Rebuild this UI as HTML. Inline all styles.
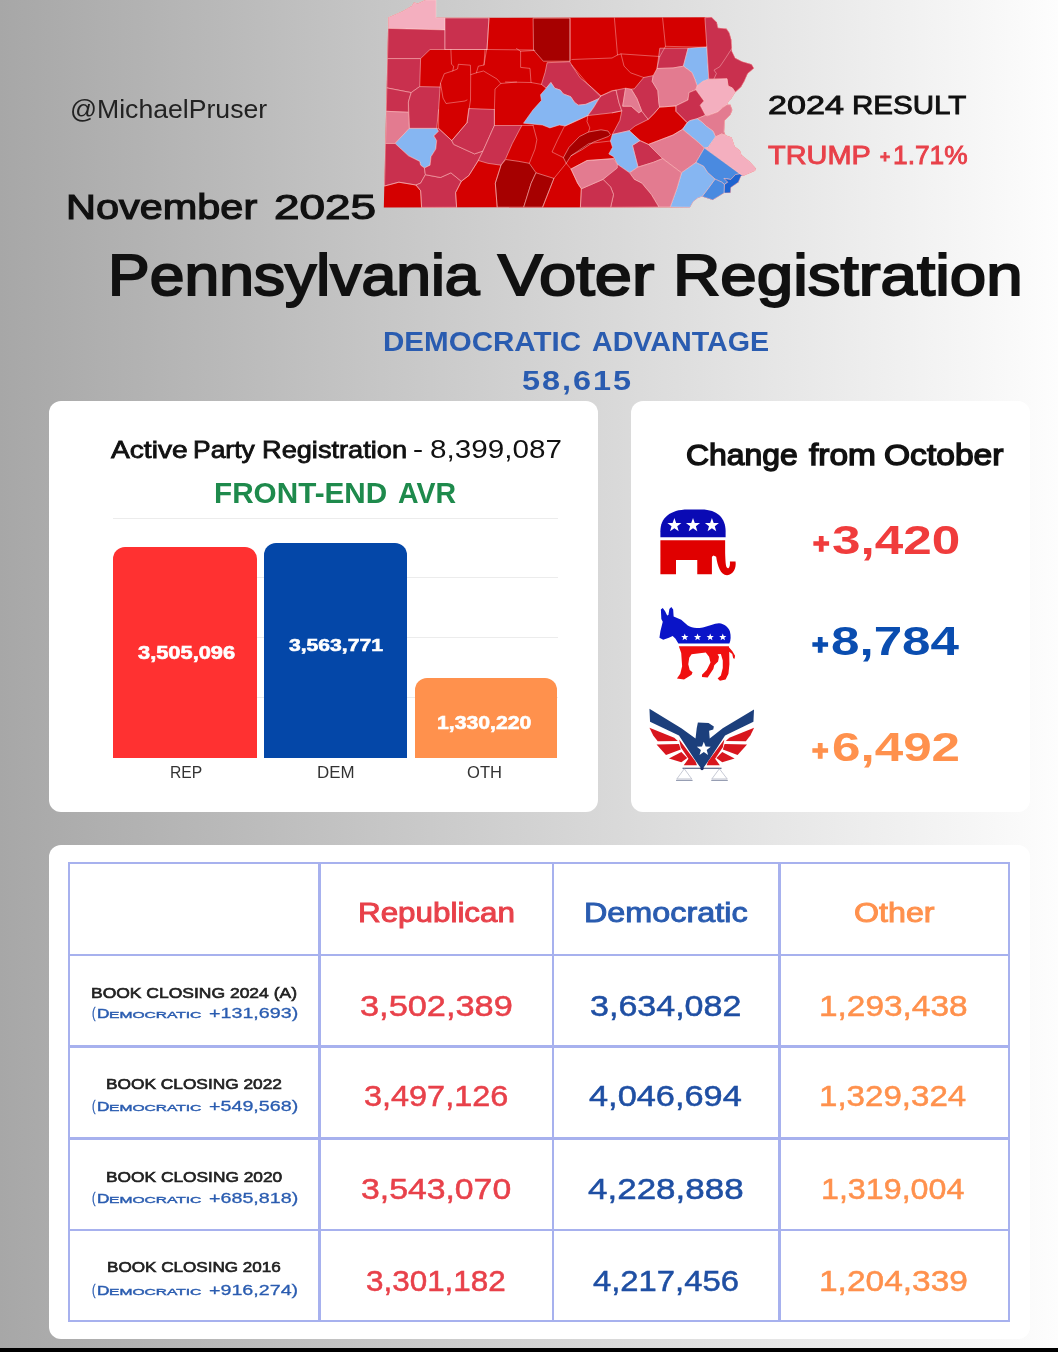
<!DOCTYPE html>
<html>
<head>
<meta charset="utf-8">
<title>Pennsylvania Voter Registration</title>
<style>
*{box-sizing:border-box;margin:0;padding:0}
html,body{width:1058px;height:1352px;overflow:hidden}
body{font-family:"Liberation Sans",sans-serif;position:relative;background:linear-gradient(to right,#a7a7a7 0%,#fdfdfd 100%);color:#111}
.t{position:absolute;white-space:nowrap;line-height:1;transform-origin:0 0}
.card{position:absolute;background:#fff;border-radius:12px}
.bar{position:absolute;border-radius:12px 12px 0 0}
.gl{position:absolute;left:113px;width:445px;height:1px;background:#ececec}
.ln{position:absolute;background:#a7b1ee}
#blackbar{position:absolute;left:0;top:1347.5px;width:1058px;height:5px;background:#000}
svg{position:absolute;overflow:visible}
</style>
</head>
<body>
<svg id="map" style="left:0;top:0;filter:blur(0.65px)" width="1058" height="230" viewBox="0 0 1058 230">
<polygon points="388.3,17.4 402.7,11.3 411.8,6.0 414.0,2.6 417.8,3.4 425.4,0.0 436.0,0.0 436.0,17.8 711.6,17.2 716.9,22.5 717.9,27.8 726.5,28.8 729.4,33.1 731.3,39.8 731.8,48.5 731.8,50.9 735.2,58.1 741.9,61.4 751.5,64.3 753.9,68.2 747.7,73.5 744.3,81.2 741.0,86.9 735.2,92.2 731.3,98.5 728.5,101.3 727.0,104.7 730.4,104.7 732.3,110.0 730.4,114.8 724.6,120.6 724.1,132.1 725.5,135.3 731.6,137.6 734.6,146.6 739.9,150.4 741.4,155.0 749.7,161.8 755.8,168.6 755.0,170.8 742.9,176.1 741.0,176.1 738.4,182.2 730.8,187.5 730.5,192.8 724.0,193.1 712.7,199.9 702.1,196.5 697.6,198.0 693.0,201.8 690.0,207.2 383.8,207.5" fill="#d40000"/>
<g stroke="#ffd0d0" stroke-opacity="0.7" stroke-width="0.7" stroke-linejoin="round">
<polygon points="388.3,17.4 402.7,11.3 411.8,6.0 414.0,2.6 417.8,3.4 425.4,0.0 436.0,0.0 436.0,17.8 445.0,17.8 445.0,29.9 388.2,28.4" fill="#f4afbf"/>
<polygon points="388.2,28.4 445.0,29.9 445.0,49.5 430.0,49.5 420.6,58.6 387.5,58.6" fill="#c9304e"/>
<polygon points="445.0,18.0 489.0,18.0 487.0,49.5 445.0,49.5" fill="#c9304e"/>
<polygon points="387.5,58.6 420.6,58.6 419.7,86.6 411.2,92.6 386.8,87.9" fill="#c9304e"/>
<polygon points="386.8,87.9 411.2,92.6 408.4,102.0 408.4,112.3 386.3,111.3" fill="#c9304e"/>
<polygon points="411.2,92.6 419.7,86.6 440.1,87.0 438.6,109.6 436.7,128.4 409.3,128.4 408.4,102.0" fill="#c9304e"/>
<polygon points="386.3,111.3 408.4,112.3 409.3,128.4 395.1,143.5 385.5,143.5" fill="#e37b90"/>
<polygon points="409.3,128.4 436.7,128.4 438.6,131.2 433.9,135.9 436.7,140.6 435.8,149.1 431.0,156.7 430.1,165.2 424.4,168.0 420.6,165.2 419.7,161.4 408.4,155.8 395.1,143.5" fill="#86b6f2"/>
<polygon points="385.5,143.5 395.1,143.5 408.4,155.8 419.7,161.4 420.6,165.2 424.4,168.0 425.4,174.7 420.6,183.2 415.9,185.0 398.9,182.2 384.5,186.0" fill="#c9304e"/>
<polygon points="420.6,183.2 425.4,174.7 440.5,177.5 450.9,172.8 461.3,181.3 455.6,192.6 456.6,207.3 421.6,207.4 420.6,190.7 415.9,185.0" fill="#c9304e"/>
<polygon points="436.7,128.4 438.6,128.4 451.8,140.6 453.7,144.4 474.5,153.9 483.0,151.0 478.3,160.5 468.8,175.6 461.3,181.3 450.9,172.8 440.5,177.5 425.4,174.7 424.4,168.0 430.1,165.2 431.0,156.7 435.8,149.1 436.7,140.6 433.9,135.9 438.6,131.2" fill="#c9304e"/>
<polygon points="467.0,122.7 468.8,108.5 494.4,109.5 494.4,125.5 483.0,151.0 474.5,153.9 453.7,144.4 451.8,140.6" fill="#c9304e"/>
<polygon points="494.4,125.5 521.8,125.5 512.3,143.5 505.7,158.6 501.0,165.2 487.8,163.3 478.3,160.5 483.0,151.0" fill="#c9304e"/>
<polygon points="505.7,159.5 518.9,161.4 529.3,163.3 536.0,172.8 531.2,183.2 523.7,207.2 497.2,207.2 495.3,183.2 501.0,165.2" fill="#a60000"/>
<polygon points="536.0,172.8 553.9,178.4 542.6,207.2 523.7,207.2 531.2,183.2" fill="#a60000"/>
<polygon points="533.1,18.2 570.0,18.2 570.0,61.2 543.3,61.2 533.5,50.0" fill="#a60000"/>
<polygon points="563.4,157.6 569.0,147.3 579.5,136.5 588.5,132.0 601.0,129.8 608.0,131.0 610.4,134.5 608.5,136.4 593.4,142.1 582.1,149.6 571.0,155.8 566.2,163.3" fill="#a60000"/>
<polygon points="547.1,62.7 569.8,61.7 572.6,66.5 580.2,77.8 591.5,87.3 601.0,95.8 599.1,98.6 585.9,104.3 578.3,105.2 574.5,102.4 570.7,96.7 563.2,93.9 560.3,90.1 554.7,88.2 550.9,82.5 546.2,88.2 541.4,84.4 545.2,72.1" fill="#c9304e"/>
<polygon points="550.9,82.5 554.7,88.2 560.3,90.1 563.2,93.9 570.7,96.7 574.5,102.4 578.3,105.2 585.9,104.3 599.1,98.6 593.4,108.0 587.8,115.6 565.1,126.0 559.4,125.0 549.9,127.9 542.4,125.0 523.5,123.2 532.9,110.0 541.4,100.5 540.5,94.8 546.2,88.2" fill="#86b6f2"/>
<polygon points="601.0,95.8 612.3,91.0 616.1,90.1 618.9,102.4 621.8,110.9 612.3,112.8 587.8,115.6 593.4,108.0 599.1,98.6" fill="#c9304e"/>
<polygon points="616.1,90.1 625.6,88.2 622.7,106.2 631.2,106.2 638.8,112.8 641.6,110.9 648.2,119.4 635.0,126.0 629.3,130.7 612.3,134.5 619.9,120.3 621.8,110.9 618.9,102.4" fill="#c9304e"/>
<polygon points="631.2,89.1 634.3,88.8 643.7,77.5 653.2,75.6 652.2,81.3 657.9,90.7 658.8,102.0 659.6,107.1 653.9,113.7 648.2,119.4 641.6,110.9 636.9,98.6" fill="#c9304e"/>
<polygon points="625.6,88.2 631.2,89.1 636.9,98.6 641.6,110.9 638.8,112.8 631.2,106.2 622.7,106.2" fill="#e37b90"/>
<polygon points="659.8,48.2 688.1,48.2 683.4,66.2 673.0,68.0 657.0,68.5" fill="#c9304e"/>
<polygon points="688.1,48.2 705.9,47.0 706.8,46.5 708.8,79.2 702.5,81.6 697.2,86.0 694.8,79.2 691.9,72.5 683.4,66.2" fill="#86b6f2"/>
<polygon points="704.9,17.7 711.6,17.2 716.9,22.5 717.9,27.8 726.5,28.8 729.4,33.1 731.3,39.8 731.8,48.5 731.8,50.9 735.2,58.1 741.9,61.4 751.5,64.3 753.9,68.2 747.7,73.5 744.3,81.2 741.0,86.9 735.2,92.2 732.3,87.9 728.0,86.0 727.0,78.8 714.0,79.2 708.8,79.2 706.8,46.5" fill="#c9304e"/>
<polygon points="657.0,68.5 673.0,68.0 683.4,66.2 691.9,72.5 694.8,79.2 697.2,86.0 695.8,89.8 693.4,90.8 689.0,92.6 688.0,100.0 675.9,105.9 664.5,106.8 659.6,107.1 658.8,102.0 657.9,90.7 652.2,81.3 653.2,75.6" fill="#e37b90"/>
<polygon points="697.2,86.0 702.5,81.6 708.8,79.2 714.0,79.2 727.0,78.8 728.0,86.0 732.3,87.9 735.2,92.2 731.3,98.5 728.5,101.3 727.0,104.7 722.7,107.6 717.9,111.9 707.3,115.8 705.4,115.3 700.1,105.2 703.9,100.9 695.8,89.8" fill="#f4afbf"/>
<polygon points="689.0,92.6 693.4,90.8 695.8,89.8 703.9,100.9 700.1,105.2 705.4,115.3 697.2,118.7 690.0,120.6 687.2,122.7 675.9,111.3 675.9,105.9 688.0,100.0" fill="#c9304e"/>
<polygon points="707.3,115.8 717.9,111.9 722.7,107.6 727.0,104.7 730.4,104.7 732.3,110.0 730.4,114.8 724.6,120.6 724.1,132.1 725.5,135.3 721.7,134.0 715.5,136.9 713.1,131.2 706.3,126.3 702.5,122.5 697.2,118.7 705.4,115.3" fill="#e37b90"/>
<polygon points="682.5,129.3 687.2,122.7 690.0,120.6 697.2,118.7 702.5,122.5 706.3,126.3 713.1,131.2 715.5,136.9 708.1,147.4 704.4,148.1 698.5,142.5" fill="#86b6f2"/>
<polygon points="708.1,147.4 715.5,136.9 721.7,134.0 725.5,135.3 731.6,137.6 734.6,146.6 739.9,150.4 741.4,155.0 749.7,161.8 755.8,168.6 755.0,170.8 742.9,176.1 739.9,173.9 704.4,148.1" fill="#f4afbf"/>
<polygon points="648.4,144.4 673.0,135.0 682.5,129.3 698.5,142.5 704.4,148.1 696.0,162.5 681.5,172.8 662.6,158.6" fill="#e37b90"/>
<polygon points="704.4,148.1 739.9,173.9 735.4,174.6 730.8,179.5 724.0,178.4 727.8,182.2 724.4,184.4 721.8,182.2 715.0,179.1 707.4,172.3 703.6,166.3 696.0,162.5" fill="#4a8ae0"/>
<polygon points="724.0,178.4 730.8,179.5 735.4,174.6 739.9,173.9 742.9,176.1 741.0,176.1 738.4,182.2 730.8,187.5 730.5,192.8 724.0,193.1 724.4,184.4 727.8,182.2" fill="#1f63cf"/>
<polygon points="715.0,179.1 721.8,182.2 724.4,184.4 724.0,193.1 712.7,199.9 702.1,196.5 708.9,187.5" fill="#4a8ae0"/>
<polygon points="696.0,162.5 703.6,166.3 707.4,172.3 715.0,179.1 708.9,187.5 702.1,196.5 697.6,198.0 693.0,201.8 690.0,207.2 670.2,207.0 676.8,188.8 681.5,172.8" fill="#86b6f2"/>
<polygon points="632.4,145.4 640.0,140.6 648.4,144.4 662.6,158.6 653.2,162.4 638.0,167.1" fill="#c9304e"/>
<polygon points="612.3,134.5 629.3,130.7 640.0,140.6 632.4,145.4 638.0,167.1 629.5,172.8 617.3,164.3 613.5,156.7 608.8,153.9 612.5,147.3 610.4,141.0" fill="#86b6f2"/>
<polygon points="629.5,172.8 638.0,167.1 653.2,162.4 662.6,158.6 681.5,172.8 676.8,188.8 670.2,207.0 658.8,207.0 651.3,194.5 641.8,183.2 634.3,179.4" fill="#e37b90"/>
<polygon points="617.3,164.3 629.5,172.8 634.3,179.4 641.8,183.2 651.3,194.5 658.8,207.0 610.6,207.3 613.5,194.5 610.6,187.0 603.0,179.4" fill="#c9304e"/>
<polygon points="581.3,188.8 603.0,179.4 610.6,187.0 613.5,194.5 610.6,207.3 580.4,207.3" fill="#c9304e"/>
<polygon points="571.0,169.0 587.0,160.5 613.5,158.6 617.3,164.3 617.3,168.0 603.0,179.4 581.3,188.8 577.6,183.2" fill="#e37b90"/>
</g>
<g fill="none" stroke="#ffd0d0" stroke-opacity="0.6" stroke-width="0.7" stroke-linejoin="round" stroke-linecap="round">
<polyline points="731.8,48.5 725.6,58.1 719.8,66.7 714.0,70.1 716.4,73.5 714.0,78.8"/>
<polyline points="489.0,18.0 487.0,49.5"/>
<polyline points="487.0,49.5 533.5,50.0"/>
<polyline points="445.0,49.5 487.0,49.5"/>
<polyline points="450.9,49.5 451.5,64.3 453.7,66.2 452.8,70.9 444.3,73.7 440.5,83.2 440.1,87.0"/>
<polyline points="485.0,49.5 484.0,65.0 478.3,66.2 476.4,72.8 470.7,74.7 470.4,65.2 458.4,64.3 457.5,69.0 452.8,70.9"/>
<polyline points="440.5,83.2 443.0,98.0 446.0,103.5 465.0,101.0 467.0,100.0"/>
<polyline points="470.7,74.7 470.5,100.0 467.0,122.7"/>
<polyline points="476.4,72.8 483.5,71.0 497.0,79.0 500.8,83.5 516.5,82.0"/>
<polyline points="500.8,83.5 495.0,89.0 494.4,109.5"/>
<polyline points="494.4,109.5 494.4,125.5"/>
<polyline points="484.0,65.0 486.6,49.5"/>
<polyline points="516.5,48.5 520.6,51.3 520.6,67.4 530.0,68.4 531.0,82.5 541.4,84.4"/>
<polyline points="505.5,82.0 531.0,82.5"/>
<polyline points="520.6,51.3 534.8,50.4"/>
<polyline points="570.0,18.2 570.0,61.2"/>
<polyline points="614.4,18.0 617.5,55.0 612.0,58.0 571.9,59.5"/>
<polyline points="662.6,18.0 665.5,46.3 705.9,47.3"/>
<polyline points="617.5,55.0 621.0,53.9 659.8,56.5 665.5,46.3"/>
<polyline points="621.0,53.9 624.0,66.0 630.5,72.8 643.7,77.5"/>
<polyline points="659.8,56.5 657.0,68.5"/>
<polyline points="616.1,90.1 611.6,90.7 600.2,96.4"/>
<polyline points="571.9,65.2 587.0,83.2 600.2,96.4"/>
<polyline points="521.8,125.5 533.1,125.5"/>
<polyline points="533.1,125.5 536.9,139.7 535.0,149.1 529.3,163.3"/>
<polyline points="564.3,126.5 557.7,139.7 552.0,152.0 563.4,157.6"/>
<polyline points="566.2,163.3 553.9,178.4"/>
<polyline points="553.9,178.4 542.6,207.2"/>
<polyline points="566.2,163.3 571.0,169.0 577.6,183.2 581.3,188.8 580.4,207.3"/>
<polyline points="565.1,126.0 587.8,115.6"/>
<polyline points="587.8,115.6 587.0,121.5 589.8,127.9 588.5,132.0"/>
<polyline points="612.3,112.8 621.8,110.9"/>
<polyline points="571.0,155.8 588.9,143.5 610.4,141.0"/>
<polyline points="613.5,158.6 587.0,160.5 571.0,169.0"/>
<polyline points="456.6,207.3 455.6,192.6 461.3,181.3 468.8,175.6 478.3,160.5"/>
<polyline points="501.0,165.2 495.3,183.2 497.2,207.2"/>
<polyline points="648.2,119.4 653.9,113.7 659.6,107.1 664.5,106.8 675.9,105.9 675.9,111.3 687.2,122.7 682.5,129.3 673.0,135.0 648.4,144.4 640.0,140.6 629.3,130.7"/>
<polyline points="384.5,186.0 398.9,182.2 415.9,185.0 420.6,190.7 421.6,207.4"/>
<polyline points="438.6,109.6 438.6,128.4 451.8,140.6 467.0,122.7"/>
</g>
</svg>
<div class="card" style="left:49px;top:401px;width:548.5px;height:410.5px"></div>
<div class="card" style="left:631px;top:401px;width:399px;height:410.5px"></div>
<div class="card" style="left:49px;top:845px;width:981px;height:494px"></div>
<!-- chart -->
<div class="gl" style="top:518px"></div>
<div class="gl" style="top:577px"></div>
<div class="gl" style="top:637px"></div>
<div class="gl" style="top:697px"></div>
<div class="bar" style="left:113px;top:547px;width:143.5px;height:210.5px;background:#ff3131"></div>
<div class="bar" style="left:264px;top:543px;width:143px;height:214.5px;background:#0447a8"></div>
<div class="bar" style="left:415.3px;top:678px;width:142px;height:79.5px;background:#ff914d"></div>
<!-- table lines -->
<div class="ln" style="left:68.0px;top:861.7px;width:942.4px;height:2.4px"></div>
<div class="ln" style="left:68.0px;top:953.6px;width:942.4px;height:2.4px"></div>
<div class="ln" style="left:68.0px;top:1045.4px;width:942.4px;height:2.4px"></div>
<div class="ln" style="left:68.0px;top:1137.2px;width:942.4px;height:2.4px"></div>
<div class="ln" style="left:68.0px;top:1228.8px;width:942.4px;height:2.4px"></div>
<div class="ln" style="left:68.0px;top:1320.0px;width:942.4px;height:2.4px"></div>
<div class="ln" style="left:68.0px;top:861.7px;width:2.4px;height:460.7px"></div>
<div class="ln" style="left:318.3px;top:861.7px;width:2.4px;height:460.7px"></div>
<div class="ln" style="left:551.5px;top:861.7px;width:2.4px;height:460.7px"></div>
<div class="ln" style="left:778.3px;top:861.7px;width:2.4px;height:460.7px"></div>
<div class="ln" style="left:1008.0px;top:861.7px;width:2.4px;height:460.7px"></div>
<div style="position:absolute;left:414px;top:449.5px;width:8px;height:2.8px;background:#111;border-radius:1px"></div>
<svg id="icons" style="left:0;top:0;filter:blur(0.6px)" width="1058" height="1352" viewBox="0 0 1058 1352">
<g transform="translate(650,500) scale(0.09452)">
<path d="M110,395 L110,330 C110,190 210,100 400,100 L545,100 C715,100 800,195 800,330 L800,395 Z" fill="#0a0ab4"/>
<path d="M110,425 L795,425 L795,560 C798,640 800,700 815,718 C835,733 850,700 845,650 L905,650 C915,720 880,792 815,795 C745,790 715,700 700,600 L672,588 L655,600 L655,785 L500,785 L500,635 L275,635 L275,785 L110,785 Z" fill="#e00000"/>
<polygon points="258.0,190.0 276.8,242.1 332.2,243.9 288.4,277.9 303.8,331.1 258.0,300.0 212.2,331.1 227.6,277.9 183.8,243.9 239.2,242.1" fill="#fff"/>
<polygon points="455.0,190.0 473.8,242.1 529.2,243.9 485.4,277.9 500.8,331.1 455.0,300.0 409.2,331.1 424.6,277.9 380.8,243.9 436.2,242.1" fill="#fff"/>
<polygon points="655.0,190.0 673.8,242.1 729.2,243.9 685.4,277.9 700.8,331.1 655.0,300.0 609.2,331.1 624.6,277.9 580.8,243.9 636.2,242.1" fill="#fff"/>
</g>
<g transform="translate(650,600) scale(0.09452)">
<path d="M115,100 L135,85 L160,120 L182,165 L195,160 L205,95 L225,75 L245,100 L250,175 L330,210 L400,270 C440,295 480,302 560,290 C620,275 680,248 730,245 C790,250 830,290 845,330 C858,380 855,430 840,460 L300,460 L270,410 L240,380 L200,400 L140,420 L100,400 L110,330 L135,230 L120,200 Z" fill="#0a14c8"/>
<path d="M305,490 L835,490 L835,500 L870,540 L900,590 L895,622 L880,615 L870,572 L838,548 L840,680 L830,780 L800,840 L740,855 L715,830 L750,800 L770,720 L770,640 L750,570 L715,575 L730,600 L720,650 L680,690 L670,730 L610,820 L550,815 L550,790 L600,740 L640,660 L625,600 L590,555 L440,575 L415,610 L405,680 L420,740 L450,765 L440,790 L360,840 L285,830 L320,780 L340,700 L330,560 Z" fill="#f01010"/>
<polygon points="368.0,354.0 378.0,380.2 406.0,381.6 384.2,399.3 391.5,426.4 368.0,411.0 344.5,426.4 351.8,399.3 330.0,381.6 358.0,380.2" fill="#fff"/>
<polygon points="503.0,354.0 513.0,380.2 541.0,381.6 519.2,399.3 526.5,426.4 503.0,411.0 479.5,426.4 486.8,399.3 465.0,381.6 493.0,380.2" fill="#fff"/>
<polygon points="637.0,354.0 647.0,380.2 675.0,381.6 653.2,399.3 660.5,426.4 637.0,411.0 613.5,426.4 620.8,399.3 599.0,381.6 627.0,380.2" fill="#fff"/>
<polygon points="770.0,354.0 780.0,380.2 808.0,381.6 786.2,399.3 793.5,426.4 770.0,411.0 746.5,426.4 753.8,399.3 732.0,381.6 760.0,380.2" fill="#fff"/>
</g>
<g transform="translate(640,700) scale(0.11815)">
<path d="M80,75 L350,240 L470,325 L480,240 L490,190 L580,195 L625,225 L620,250 L585,260 L590,325 L700,240 L965,80 L960,185 L720,300 L590,500 L525,590 L460,500 L330,300 L85,185 Z" fill="#1c3f7c"/>
<g fill="#d8161e"><polygon points="80,235 290,320 320,347 150,350 112,300"/><polygon points="140,377 330,372 345,420 220,465"/><polygon points="245,495 350,440 400,490 350,527"/><polygon points="332,335 470,520 482,552 370,552 410,497 345,400"/></g>
<g fill="#d8161e" transform="translate(1046,0) scale(-1,1)"><polygon points="80,235 290,320 320,347 150,350 112,300"/><polygon points="140,377 330,372 345,420 220,465"/><polygon points="245,495 350,440 400,490 350,527"/><polygon points="332,335 470,520 482,552 370,552 410,497 345,400"/></g>
<polygon points="540.0,353.0 555.3,394.0 599.0,395.8 564.7,423.0 576.4,465.2 540.0,441.0 503.6,465.2 515.3,423.0 481.0,395.8 524.7,394.0" fill="#fff"/>
<g stroke="#8890a8" stroke-width="9" fill="none"><path d="M360,577 L690,577" stroke="#3a4670"/><path d="M375,582 L312,668 L438,668 Z" stroke-width="6" stroke="#b0b4c4"/><path d="M672,582 L608,668 L738,668 Z" stroke-width="6" stroke="#b0b4c4"/><path d="M305,680 L445,680"/><path d="M603,680 L743,680"/></g>
<circle cx="525" cy="580" r="14" fill="#1c2f6c"/>
</g>
</svg>
<div id="texts" style="position:absolute;left:0;top:0;width:1058px;height:1352px;filter:blur(0.45px)">
<div class="t" id="handle" style="left:70.14px;top:96.60px;font-size:25.73px;color:#222;transform:scaleX(1.0349);">@MichaelPruser</div>
<div class="t" id="nov0" style="left:66.29px;top:190.09px;font-size:35.60px;color:#111;transform:scaleX(1.1652);-webkit-text-stroke:1.21px #111;">November</div>
<div class="t" id="nov1" style="left:273.99px;top:189.10px;font-size:35.01px;color:#111;transform:scaleX(1.3109);-webkit-text-stroke:1.19px #111;">2025</div>
<div class="t" id="res0" style="left:768.07px;top:91.76px;font-size:26.16px;color:#111;transform:scaleX(1.3049);-webkit-text-stroke:0.89px #111;">2024</div>
<div class="t" id="res1" style="left:851.74px;top:91.75px;font-size:26.59px;color:#111;transform:scaleX(1.1112);-webkit-text-stroke:0.9px #111;">RESULT</div>
<div class="t" id="trump0" style="left:767.91px;top:142.25px;font-size:26.32px;color:#e8414a;transform:scaleX(1.0982);-webkit-text-stroke:0.89px #e8414a;">TRUMP</div>
<div class="t" id="trump1" style="left:893.40px;top:143.26px;font-size:25.89px;color:#e8414a;transform:scaleX(1.0178);-webkit-text-stroke:0.88px #e8414a;">1.71%</div>
<div class="t" id="trumpp" style="left:880.41px;top:148.48px;font-size:17.25px;color:#e8414a;transform:scaleX(1.0003);font-weight:bold;-webkit-text-stroke:0.8px #e8414a;">+</div>
<div class="t" id="title0" style="left:107.86px;top:246.81px;font-size:57.89px;color:#111;transform:scaleX(1.0792);-webkit-text-stroke:1.97px #111;">Pennsylvania</div>
<div class="t" id="title1" style="left:497.84px;top:246.81px;font-size:57.89px;color:#111;transform:scaleX(1.1563);-webkit-text-stroke:1.97px #111;">Voter</div>
<div class="t" id="title2" style="left:672.87px;top:246.81px;font-size:57.89px;color:#111;transform:scaleX(1.1321);-webkit-text-stroke:1.97px #111;">Registration</div>
<div class="t" id="demadv0" style="left:382.93px;top:327.70px;font-size:27.62px;color:#2a5cb0;transform:scaleX(1.0702);font-weight:bold;">DEMOCRATIC</div>
<div class="t" id="demadv1" style="left:591.73px;top:327.70px;font-size:27.62px;color:#2a5cb0;transform:scaleX(1.0369);font-weight:bold;">ADVANTAGE</div>
<div class="t" id="advnum" style="left:521.83px;top:366.60px;font-size:27.14px;color:#2a5cb0;transform:scaleX(1.1961);font-weight:bold;letter-spacing:0.06em;">58,615</div>
<div class="t" id="apr10" style="left:110.78px;top:438.39px;font-size:24.24px;color:#111;transform:scaleX(1.1614);-webkit-text-stroke:0.82px #111;">Active</div>
<div class="t" id="apr11" style="left:193.23px;top:438.39px;font-size:24.24px;color:#111;transform:scaleX(1.0909);-webkit-text-stroke:0.82px #111;">Party</div>
<div class="t" id="apr12" style="left:261.68px;top:438.39px;font-size:24.24px;color:#111;transform:scaleX(1.1217);-webkit-text-stroke:0.82px #111;">Registration</div>
<div class="t" id="apr3" style="left:429.81px;top:437.40px;font-size:25.14px;color:#111;transform:scaleX(1.1808);">8,399,087</div>
<div class="t" id="avr0" style="left:214.42px;top:478.70px;font-size:28.78px;color:#1e8a4c;transform:scaleX(1.0326);font-weight:bold;">FRONT-END</div>
<div class="t" id="avr1" style="left:397.53px;top:478.70px;font-size:28.78px;color:#1e8a4c;transform:scaleX(0.9913);font-weight:bold;">AVR</div>
<div class="t" id="b1" style="left:138.33px;top:645.20px;font-size:17.71px;color:#fff;transform:scaleX(1.2348);font-weight:bold;-webkit-text-stroke:0.6px #fff;">3,505,096</div>
<div class="t" id="b2" style="left:288.94px;top:637.30px;font-size:17.29px;color:#fff;transform:scaleX(1.2226);font-weight:bold;-webkit-text-stroke:0.6px #fff;">3,563,771</div>
<div class="t" id="b3" style="left:437.08px;top:713.70px;font-size:18.00px;color:#fff;transform:scaleX(1.1780);font-weight:bold;-webkit-text-stroke:0.6px #fff;">1,330,220</div>
<div class="t" id="l1" style="left:170.44px;top:765.00px;font-size:16.57px;color:#333;transform:scaleX(0.9479);">REP</div>
<div class="t" id="l2" style="left:316.65px;top:765.00px;font-size:16.57px;color:#333;transform:scaleX(1.0208);">DEM</div>
<div class="t" id="l3" style="left:466.84px;top:765.00px;font-size:16.57px;color:#333;transform:scaleX(0.9995);">OTH</div>
<div class="t" id="chg0" style="left:686.04px;top:439.71px;font-size:29.97px;color:#111;transform:scaleX(1.0657);-webkit-text-stroke:1.38px #111;">Change</div>
<div class="t" id="chg1" style="left:808.94px;top:439.71px;font-size:29.97px;color:#111;transform:scaleX(1.1161);-webkit-text-stroke:1.38px #111;">from</div>
<div class="t" id="chg2" style="left:883.73px;top:439.71px;font-size:29.97px;color:#111;transform:scaleX(1.1203);-webkit-text-stroke:1.38px #111;">October</div>
<div class="t" id="c1p" style="left:812.89px;top:530.40px;font-size:27.45px;color:#f03c3c;transform:scaleX(1.0257);font-weight:bold;-webkit-text-stroke:1.6px #f03c3c;">+</div>
<div class="t" id="c1" style="left:831.87px;top:519.40px;font-size:41.43px;color:#f03c3c;transform:scaleX(1.2373);font-weight:bold;">3,420</div>
<div class="t" id="c2p" style="left:811.89px;top:631.40px;font-size:27.45px;color:#0a4db0;transform:scaleX(1.0257);font-weight:bold;-webkit-text-stroke:1.6px #0a4db0;">+</div>
<div class="t" id="c2" style="left:831.27px;top:620.40px;font-size:41.43px;color:#0a4db0;transform:scaleX(1.2350);font-weight:bold;">8,784</div>
<div class="t" id="c3p" style="left:811.89px;top:737.40px;font-size:27.45px;color:#ff914d;transform:scaleX(1.0257);font-weight:bold;-webkit-text-stroke:1.6px #ff914d;">+</div>
<div class="t" id="c3" style="left:832.06px;top:726.40px;font-size:41.43px;color:#ff914d;transform:scaleX(1.2354);font-weight:bold;">6,492</div>
<div class="t" id="hR" style="left:357.52px;top:900.34px;font-size:27.01px;color:#e8414a;transform:scaleX(1.1618);-webkit-text-stroke:0.92px #e8414a;">Republican</div>
<div class="t" id="hD" style="left:583.76px;top:900.34px;font-size:27.01px;color:#2a5cb0;transform:scaleX(1.1981);-webkit-text-stroke:0.92px #2a5cb0;">Democratic</div>
<div class="t" id="hO" style="left:853.56px;top:900.34px;font-size:27.01px;color:#ff914d;transform:scaleX(1.1933);-webkit-text-stroke:0.92px #ff914d;">Other</div>
<div class="t" id="r0" style="left:360.27px;top:991.55px;font-size:28.86px;color:#e8414a;transform:scaleX(1.1903);-webkit-text-stroke:0.5px #e8414a;">3,502,389</div>
<div class="t" id="d0" style="left:589.87px;top:991.55px;font-size:28.86px;color:#1f4fa3;transform:scaleX(1.1792);-webkit-text-stroke:0.5px #1f4fa3;">3,634,082</div>
<div class="t" id="o0" style="left:818.95px;top:991.55px;font-size:28.86px;color:#ff914d;transform:scaleX(1.1571);-webkit-text-stroke:0.5px #ff914d;">1,293,438</div>
<div class="t" id="r1" style="left:363.61px;top:1082.35px;font-size:28.86px;color:#e8414a;transform:scaleX(1.1238);-webkit-text-stroke:0.5px #e8414a;">3,497,126</div>
<div class="t" id="d1" style="left:589.31px;top:1082.35px;font-size:28.86px;color:#1f4fa3;transform:scaleX(1.1900);-webkit-text-stroke:0.5px #1f4fa3;">4,046,694</div>
<div class="t" id="o1" style="left:818.97px;top:1082.35px;font-size:28.86px;color:#ff914d;transform:scaleX(1.1466);-webkit-text-stroke:0.5px #ff914d;">1,329,324</div>
<div class="t" id="r2" style="left:361.18px;top:1174.85px;font-size:28.86px;color:#e8414a;transform:scaleX(1.1695);-webkit-text-stroke:0.5px #e8414a;">3,543,070</div>
<div class="t" id="d2" style="left:587.80px;top:1174.85px;font-size:28.86px;color:#1f4fa3;transform:scaleX(1.2124);-webkit-text-stroke:0.5px #1f4fa3;">4,228,888</div>
<div class="t" id="o2" style="left:821.42px;top:1174.85px;font-size:28.86px;color:#ff914d;transform:scaleX(1.1164);-webkit-text-stroke:0.5px #ff914d;">1,319,004</div>
<div class="t" id="r3" style="left:366.03px;top:1266.55px;font-size:28.86px;color:#e8414a;transform:scaleX(1.0885);-webkit-text-stroke:0.5px #e8414a;">3,301,182</div>
<div class="t" id="d3" style="left:592.63px;top:1266.55px;font-size:28.86px;color:#1f4fa3;transform:scaleX(1.1362);-webkit-text-stroke:0.5px #1f4fa3;">4,217,456</div>
<div class="t" id="o3" style="left:818.95px;top:1266.55px;font-size:28.86px;color:#ff914d;transform:scaleX(1.1598);-webkit-text-stroke:0.5px #ff914d;">1,204,339</div>
<div class="t" id="k0" style="left:90.97px;top:985.07px;font-size:15.33px;color:#222;transform:scaleX(1.1405);-webkit-text-stroke:0.65px #222;">BOOK CLOSING 2024 (A)</div>
<div class="t" id="k1" style="left:105.89px;top:1076.38px;font-size:15.19px;color:#222;transform:scaleX(1.1388);-webkit-text-stroke:0.65px #222;">BOOK CLOSING 2022</div>
<div class="t" id="k2" style="left:105.88px;top:1168.88px;font-size:15.33px;color:#222;transform:scaleX(1.1306);-webkit-text-stroke:0.65px #222;">BOOK CLOSING 2020</div>
<div class="t" id="k3" style="left:106.80px;top:1259.47px;font-size:15.19px;color:#222;transform:scaleX(1.1253);-webkit-text-stroke:0.65px #222;">BOOK CLOSING 2016</div>
<div class="t" id="s0a" style="left:92.17px;top:1005.25px;font-size:15.00px;color:#2a5cb0;transform:scaleX(0.7126);-webkit-text-stroke:0.3px #2a5cb0;">(</div>
<div class="t" id="s0b" style="left:96.84px;top:1008.17px;font-size:11.99px;color:#2a5cb0;transform:scaleX(1.4390);-webkit-text-stroke:0.45px #2a5cb0;">D</div>
<div class="t" id="s0c" style="left:109.10px;top:1010.17px;font-size:9.96px;color:#2a5cb0;transform:scaleX(1.5663);-webkit-text-stroke:0.45px #2a5cb0;">EMOCRATIC</div>
<div class="t" id="s0d" style="left:208.71px;top:1006.25px;font-size:14.71px;color:#2a5cb0;transform:scaleX(1.3385);-webkit-text-stroke:0.3px #2a5cb0;">+131,693)</div>
<div class="t" id="s1a" style="left:92.17px;top:1098.15px;font-size:15.00px;color:#2a5cb0;transform:scaleX(0.7126);-webkit-text-stroke:0.3px #2a5cb0;">(</div>
<div class="t" id="s1b" style="left:96.84px;top:1101.08px;font-size:11.99px;color:#2a5cb0;transform:scaleX(1.4390);-webkit-text-stroke:0.45px #2a5cb0;">D</div>
<div class="t" id="s1c" style="left:109.10px;top:1103.08px;font-size:9.96px;color:#2a5cb0;transform:scaleX(1.5663);-webkit-text-stroke:0.45px #2a5cb0;">EMOCRATIC</div>
<div class="t" id="s1d" style="left:208.71px;top:1098.15px;font-size:15.29px;color:#2a5cb0;transform:scaleX(1.2880);-webkit-text-stroke:0.3px #2a5cb0;">+549,568)</div>
<div class="t" id="s2a" style="left:92.17px;top:1189.85px;font-size:15.00px;color:#2a5cb0;transform:scaleX(0.7126);-webkit-text-stroke:0.3px #2a5cb0;">(</div>
<div class="t" id="s2b" style="left:96.84px;top:1192.78px;font-size:11.99px;color:#2a5cb0;transform:scaleX(1.4390);-webkit-text-stroke:0.45px #2a5cb0;">D</div>
<div class="t" id="s2c" style="left:109.10px;top:1194.78px;font-size:9.96px;color:#2a5cb0;transform:scaleX(1.5663);-webkit-text-stroke:0.45px #2a5cb0;">EMOCRATIC</div>
<div class="t" id="s2d" style="left:208.71px;top:1190.85px;font-size:14.86px;color:#2a5cb0;transform:scaleX(1.3251);-webkit-text-stroke:0.3px #2a5cb0;">+685,818)</div>
<div class="t" id="s3a" style="left:92.17px;top:1282.35px;font-size:15.00px;color:#2a5cb0;transform:scaleX(0.7126);-webkit-text-stroke:0.3px #2a5cb0;">(</div>
<div class="t" id="s3b" style="left:96.84px;top:1285.28px;font-size:11.99px;color:#2a5cb0;transform:scaleX(1.4390);-webkit-text-stroke:0.45px #2a5cb0;">D</div>
<div class="t" id="s3c" style="left:109.10px;top:1287.28px;font-size:9.96px;color:#2a5cb0;transform:scaleX(1.5663);-webkit-text-stroke:0.45px #2a5cb0;">EMOCRATIC</div>
<div class="t" id="s3d" style="left:208.71px;top:1282.35px;font-size:15.14px;color:#2a5cb0;transform:scaleX(1.3007);-webkit-text-stroke:0.3px #2a5cb0;">+916,274)</div>
</div>
<div id="blackbar"></div>
</body>
</html>
